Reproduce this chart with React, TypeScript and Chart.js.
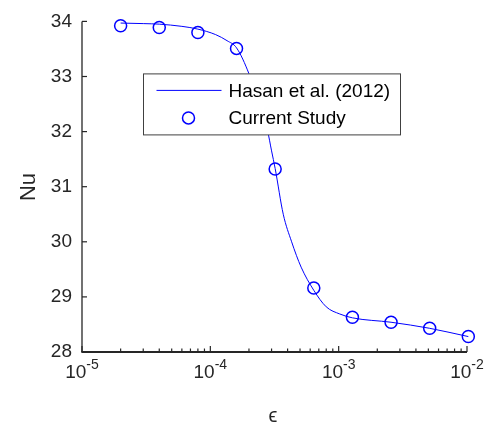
import React, { useEffect, useRef } from "react";
import { Chart, registerables } from "chart.js";

Chart.register(...registerables);

// Current study points
const epsCurrent = [2e-5, 4e-5, 8e-5, 1.6e-4, 3.2e-4, 6.4e-4, 1.28e-3, 2.56e-3, 5.12e-3, 1.024e-2];
const nuCurrent = [33.92, 33.89, 33.8, 33.51, 31.32, 29.16, 28.63, 28.54, 28.43, 28.28];

// Hasan et al. (2012) curve
const epsHasan = [2e-5, 3e-5, 4e-5, 6e-5, 8e-5, 1.1e-4, 1.35e-4, 1.6e-4, 2e-4, 2.4e-4, 2.8e-4, 3.0e-4, 3.2e-4, 3.7e-4, 4.3e-4, 5.1e-4, 6.4e-4, 8e-4, 1.02e-3, 1.28e-3, 2.56e-3, 5.12e-3, 1.024e-2];
const nuHasan = [33.97, 33.96, 33.95, 33.91, 33.86, 33.76, 33.65, 33.52, 33.05, 32.5, 32.0, 31.65, 31.33, 30.5, 30.0, 29.54, 29.12, 28.82, 28.69, 28.62, 28.54, 28.43, 28.28];

const xExponents = [-5, -4, -3, -2];
const yTicks = [28, 29, 30, 31, 32, 33, 34];

const legendLabels = ["Hasan et al. (2012)", "Current Study"];
const xTitle = "\u03F5";
const yTitle = "Nu";

const TEXT = "#262626";
const BLUE = "#0000ff";
const FONT = "'Liberation Sans', Arial, 'DejaVu Sans', sans-serif";

const decorPlugin = {
  id: "decor",
  afterDraw(chart: any) {
    const ctx = chart.ctx as CanvasRenderingContext2D;
    const xs = chart.scales.x;
    const ys = chart.scales.y;
    const { left, right, top, bottom } = chart.chartArea;
    ctx.save();
    // axes lines
    ctx.strokeStyle = TEXT;
    ctx.lineWidth = 1.3;
    ctx.beginPath();
    ctx.moveTo(left, top);
    ctx.lineTo(left, bottom);
    ctx.stroke();
    ctx.lineWidth = 2;
    ctx.beginPath();
    ctx.moveTo(left - 0.65, bottom);
    ctx.lineTo(right, bottom);
    ctx.stroke();
    // y ticks (inward)
    ctx.lineWidth = 1.2;
    for (const v of yTicks) {
      const py = ys.getPixelForValue(v);
      ctx.beginPath();
      ctx.moveTo(left, py);
      ctx.lineTo(left + 5, py);
      ctx.stroke();
    }
    // x ticks (inward), major and minor
    for (let i = 0; i < xExponents.length; i++) {
      const e = xExponents[i];
      const maxM = i === xExponents.length - 1 ? 1 : 9;
      for (let m = 1; m <= maxM; m++) {
        const v = m * Math.pow(10, e);
        const px = xs.getPixelForValue(v);
        const len = m === 1 ? 6 : 3.5;
        ctx.beginPath();
        ctx.moveTo(px, bottom);
        ctx.lineTo(px, bottom - len);
        ctx.stroke();
      }
    }
    // x tick labels with superscripts
    ctx.fillStyle = TEXT;
    ctx.textBaseline = "alphabetic";
    ctx.textAlign = "left";
    for (const e of xExponents) {
      const px = xs.getPixelForValue(Math.pow(10, e));
      ctx.font = `19px ${FONT}`;
      const base = "10";
      const w1 = ctx.measureText(base).width;
      ctx.font = `14px ${FONT}`;
      const sup = String(e);
      const w2 = ctx.measureText(sup).width;
      const x0 = px - (w1 + w2) / 2;
      ctx.font = `19px ${FONT}`;
      ctx.fillText(base, x0, 378);
      ctx.font = `14px ${FONT}`;
      ctx.fillText(sup, x0 + w1, 369);
    }
    // axis titles
    ctx.font = `20px ${FONT}`;
    ctx.textAlign = "center";
    ctx.fillText(xTitle, 273, 422);
    ctx.save();
    ctx.translate(35, 187);
    ctx.rotate(-Math.PI / 2);
    ctx.font = `22px ${FONT}`;
    ctx.textBaseline = "alphabetic";
    ctx.fillText(yTitle, 0, 0);
    ctx.restore();
    // legend
    const lx = left + 61.5;
    const ly = top + 52.5;
    const lw = 257;
    const lh = 61;
    ctx.fillStyle = "#ffffff";
    ctx.fillRect(lx, ly, lw, lh);
    ctx.strokeStyle = "#404040";
    ctx.lineWidth = 1;
    ctx.strokeRect(lx, ly, lw, lh);
    ctx.strokeStyle = BLUE;
    ctx.lineWidth = 1;
    ctx.beginPath();
    ctx.moveTo(lx + 13, ly + 16.5);
    ctx.lineTo(lx + 78, ly + 16.5);
    ctx.stroke();
    ctx.lineWidth = 1.5;
    ctx.beginPath();
    ctx.arc(lx + 45, ly + 44, 6, 0, Math.PI * 2);
    ctx.stroke();
    ctx.fillStyle = "#000000";
    ctx.font = `19px ${FONT}`;
    ctx.textAlign = "left";
    ctx.textBaseline = "middle";
    ctx.fillText(legendLabels[0], lx + 85, ly + 17.5);
    ctx.fillText(legendLabels[1], lx + 85, ly + 44.5);
    ctx.restore();
  },
};

export default function App() {
  const ref = useRef<HTMLCanvasElement | null>(null);
  useEffect(() => {
    document.body.style.margin = "0";
    const canvas = ref.current;
    if (!canvas) return;
    const chart = new Chart(canvas, {
      type: "line",
      data: {
        datasets: [
          {
            label: legendLabels[0],
            data: epsHasan.map((x, i) => ({ x, y: nuHasan[i] })),
            borderColor: BLUE,
            borderWidth: 1,
            pointRadius: 0,
            cubicInterpolationMode: "monotone",
            fill: false,
            clip: false as any,
          },
          {
            label: legendLabels[1],
            data: epsCurrent.map((x, i) => ({ x, y: nuCurrent[i] })),
            showLine: false,
            borderColor: BLUE,
            backgroundColor: "rgba(0,0,0,0)",
            pointStyle: "circle",
            pointRadius: 6,
            pointBorderWidth: 1.5,
            pointBorderColor: BLUE,
            pointBackgroundColor: "rgba(0,0,0,0)",
            clip: false as any,
          },
        ],
      },
      options: {
        animation: false,
        responsive: false,
        events: [],
        layout: { padding: { top: 20, right: 23, left: 0, bottom: 0 } },
        plugins: {
          legend: { display: false },
          tooltip: { enabled: false },
        },
        scales: {
          x: {
            type: "logarithmic",
            min: 1e-5,
            max: 1e-2,
            grid: { display: false, drawTicks: false },
            border: { display: false },
            ticks: { callback: () => "" },
            afterFit: (s: any) => {
              s.height = 72;
            },
          },
          y: {
            type: "linear",
            min: 28,
            max: 34,
            grid: { display: false, drawTicks: false },
            border: { display: false },
            ticks: {
              stepSize: 1,
              padding: 10,
              color: TEXT,
              font: { family: FONT, size: 19 },
            },
            afterFit: (s: any) => {
              s.width = 82;
            },
          },
        },
      },
      plugins: [decorPlugin],
    });
    return () => chart.destroy();
  }, []);
  return (
    <div style={{ width: 490, height: 424, background: "#fff" }}>
      <canvas ref={ref} width={490} height={424} style={{ display: "block" }} />
    </div>
  );
}
